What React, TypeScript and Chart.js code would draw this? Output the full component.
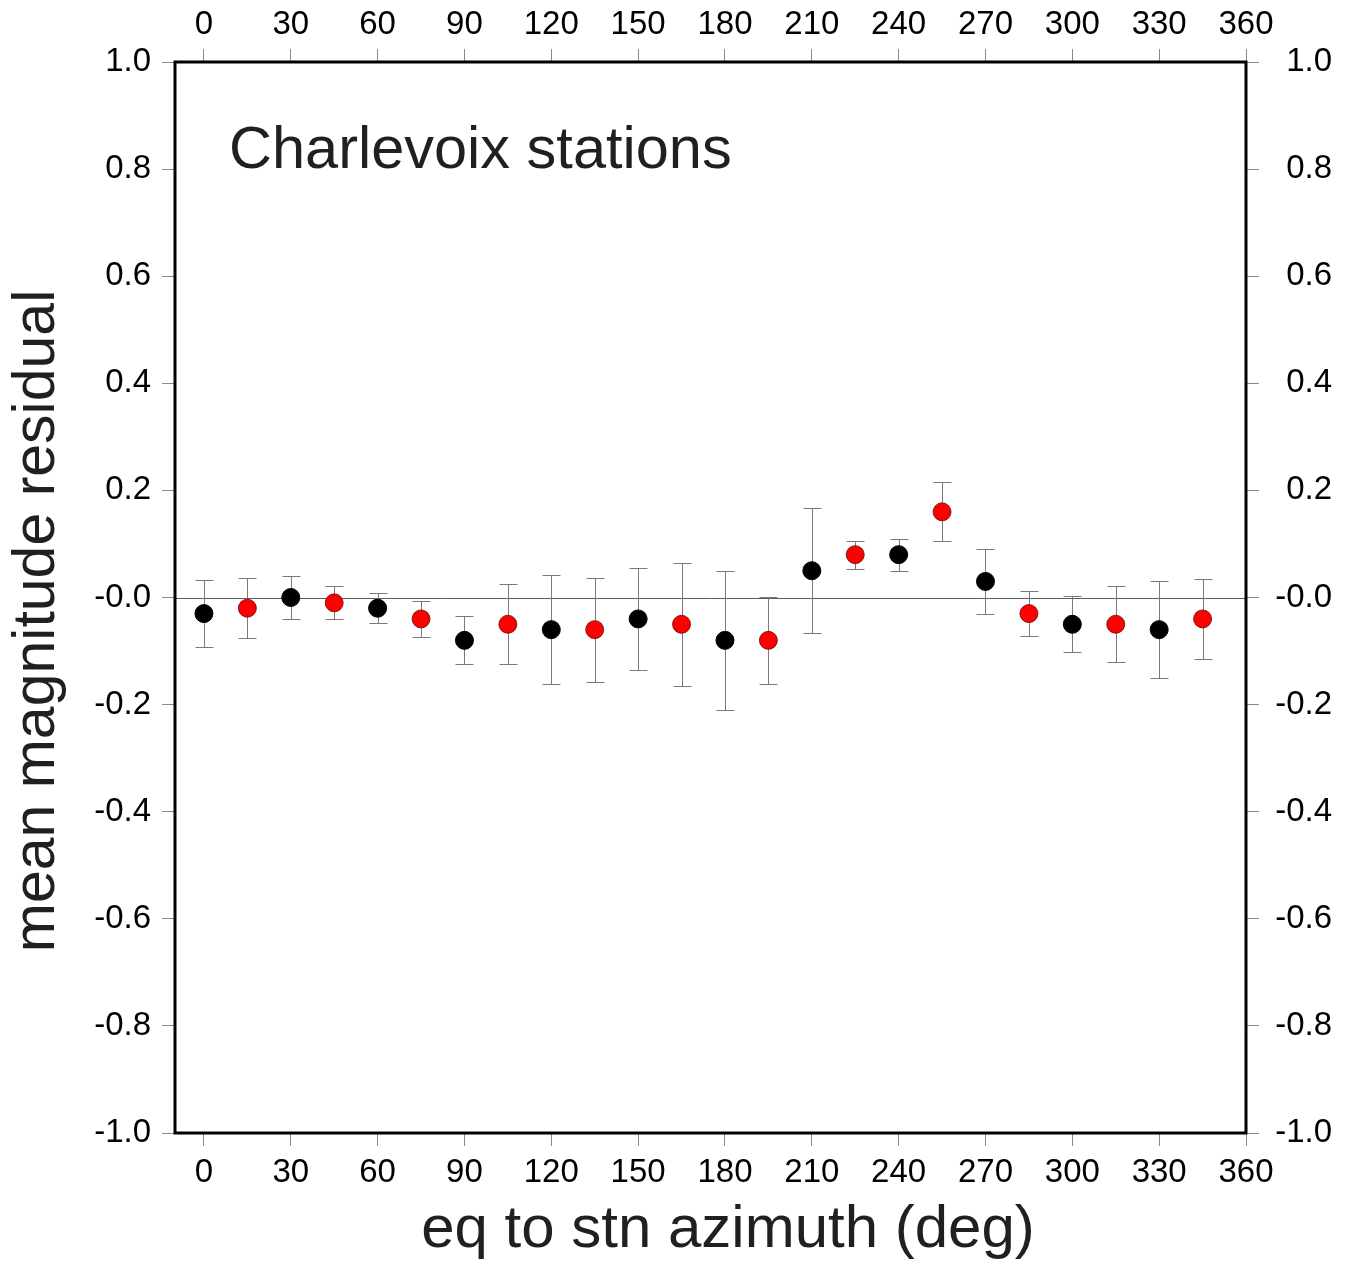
import React, { useEffect, useRef } from 'react';
import { Chart, registerables } from 'chart.js';

Chart.register(...registerables);

// ---- data ----
const blackAzimuth = [0, 30, 60, 90, 120, 150, 180, 210, 240, 270, 300, 330];
const blackResidual = [-0.03, 0.0, -0.02, -0.08, -0.06, -0.04, -0.08, 0.05, 0.08, 0.03, -0.05, -0.06];
const blackError = [0.063, 0.041, 0.028, 0.045, 0.102, 0.095, 0.13, 0.117, 0.03, 0.06, 0.052, 0.091];

const redAzimuth = [15, 45, 75, 105, 135, 165, 195, 225, 255, 285, 315, 345];
const redResidual = [-0.02, -0.01, -0.04, -0.05, -0.06, -0.05, -0.08, 0.08, 0.16, -0.03, -0.05, -0.04];
const redError = [0.056, 0.031, 0.033, 0.075, 0.097, 0.115, 0.081, 0.026, 0.055, 0.042, 0.071, 0.075];

const xTickValues = [0, 30, 60, 90, 120, 150, 180, 210, 240, 270, 300, 330, 360];
const yTickValues = [-1, -0.8, -0.6, -0.4, -0.2, 0, 0.2, 0.4, 0.6, 0.8, 1];

const chartTitle = 'Charlevoix stations';
const xTitle = 'eq to stn azimuth (deg)';
const yTitle = 'mean magnitude residual';

const FONT = '"Liberation Sans", Arial, Helvetica, sans-serif';
const W = 1354;
const H = 1269;

const fmtY = (v: number) => (Math.abs(v) < 1e-9 ? '-0.0' : v.toFixed(1));

const decorPlugin = {
  id: 'decor',
  beforeDatasetsDraw(chart: any) {
    const { ctx, chartArea, scales } = chart;
    const xs = scales.x;
    const ys = scales.y;
    ctx.save();
    // zero line
    const y0 = Math.round(ys.getPixelForValue(0)) + 0.5;
    ctx.strokeStyle = '#5c5c5c';
    ctx.lineWidth = 1;
    ctx.beginPath();
    ctx.moveTo(chartArea.left, y0);
    ctx.lineTo(chartArea.right, y0);
    ctx.stroke();
    // error bars
    ctx.strokeStyle = '#7a7a7a';
    chart.data.datasets.forEach((ds: any) => {
      const errs: number[] = ds.errors || [];
      ds.data.forEach((p: any, i: number) => {
        const x = Math.round(xs.getPixelForValue(p.x)) + 0.5;
        const yt = Math.round(ys.getPixelForValue(p.y + errs[i])) + 0.5;
        const yb = Math.round(ys.getPixelForValue(p.y - errs[i])) + 0.5;
        ctx.beginPath();
        ctx.moveTo(x, yt);
        ctx.lineTo(x, yb);
        ctx.moveTo(x - 9, yt);
        ctx.lineTo(x + 9, yt);
        ctx.moveTo(x - 9, yb);
        ctx.lineTo(x + 9, yb);
        ctx.stroke();
      });
    });
    ctx.restore();
  },
  afterDraw(chart: any) {
    const { ctx, chartArea } = chart;
    ctx.save();
    // frame
    ctx.strokeStyle = '#000';
    ctx.lineWidth = 3;
    ctx.strokeRect(chartArea.left, chartArea.top, chartArea.right - chartArea.left, chartArea.bottom - chartArea.top);
    // texts
    ctx.fillStyle = '#231f20';
    ctx.textBaseline = 'alphabetic';
    ctx.font = `59.5px ${FONT}`;
    ctx.textAlign = 'left';
    ctx.fillText(chartTitle, 229, 168);
    ctx.font = `60px ${FONT}`;
    ctx.textAlign = 'center';
    ctx.fillText(xTitle, 728, 1247);
    ctx.font = `59px ${FONT}`;
    ctx.translate(54, 621);
    ctx.rotate(-Math.PI / 2);
    ctx.fillText(yTitle, 0, 0);
    ctx.restore();
  },
};

const tickFont = { family: FONT, size: 33 };
const gridOpts = {
  display: true,
  drawOnChartArea: false,
  drawTicks: true,
  tickLength: 13,
  color: '#8a8a8a',
  lineWidth: 1,
};

export default function App() {
  const canvasRef = useRef<HTMLCanvasElement | null>(null);

  useEffect(() => {
    const canvas = canvasRef.current;
    if (!canvas) return;
    const chart = new Chart(canvas, {
      type: 'scatter',
      data: {
        datasets: [
          {
            label: 'black',
            data: blackAzimuth.map((x, i) => ({ x, y: blackResidual[i] })),
            errors: blackError,
            backgroundColor: '#000000',
            borderColor: '#000000',
            borderWidth: 1,
            pointRadius: 9,
            pointHoverRadius: 9,
          } as any,
          {
            label: 'red',
            data: redAzimuth.map((x, i) => ({ x, y: redResidual[i] })),
            errors: redError,
            backgroundColor: '#ff0000',
            borderColor: 'rgba(90,0,0,0.75)',
            borderWidth: 1,
            pointRadius: 9,
            pointHoverRadius: 9,
          } as any,
        ],
      },
      options: {
        animation: false,
        responsive: false,
        devicePixelRatio: 1,
        layout: { padding: { left: 0, right: 22, top: 0, bottom: 0 } },
        plugins: {
          legend: { display: false },
          tooltip: { enabled: false },
          title: { display: false },
        },
        events: [],
        scales: {
          x: {
            type: 'linear',
            position: 'bottom',
            min: -10,
            max: 360,
            afterBuildTicks: (s: any) => { s.ticks = xTickValues.map((v) => ({ value: v })); },
            afterFit: (s: any) => { s.height = 136; },
            grid: gridOpts,
            border: { display: false },
            ticks: { font: tickFont, color: '#000', padding: 7, maxRotation: 0, autoSkip: false },
          },
          x2: {
            type: 'linear',
            position: 'top',
            min: -10,
            max: 360,
            afterBuildTicks: (s: any) => { s.ticks = xTickValues.map((v) => ({ value: v })); },
            afterFit: (s: any) => { s.height = 62; },
            grid: gridOpts,
            border: { display: false },
            ticks: { font: tickFont, color: '#000', padding: 4, maxRotation: 0, autoSkip: false },
          },
          y: {
            type: 'linear',
            position: 'left',
            min: -1,
            max: 1,
            afterBuildTicks: (s: any) => { s.ticks = yTickValues.map((v) => ({ value: v })); },
            afterFit: (s: any) => { s.width = 175; },
            grid: gridOpts,
            border: { display: false },
            ticks: { font: tickFont, color: '#000', padding: 11, autoSkip: false, callback: (v: any) => fmtY(Number(v)) },
          },
          y2: {
            type: 'linear',
            position: 'right',
            min: -1,
            max: 1,
            afterBuildTicks: (s: any) => { s.ticks = yTickValues.map((v) => ({ value: v })); },
            afterFit: (s: any) => { s.width = 86; },
            grid: gridOpts,
            border: { display: false },
            ticks: { font: tickFont, color: '#000', padding: 12, crossAlign: 'far', autoSkip: false, callback: (v: any) => fmtY(Number(v)) },
          },
        },
      } as any,
      plugins: [decorPlugin],
    });
    return () => chart.destroy();
  }, []);

  return (
    <div style={{ position: 'absolute', left: 0, top: 0, width: W, height: H, background: '#fff' }}>
      <canvas ref={canvasRef} width={W} height={H} style={{ display: 'block', width: W, height: H }} />
    </div>
  );
}
